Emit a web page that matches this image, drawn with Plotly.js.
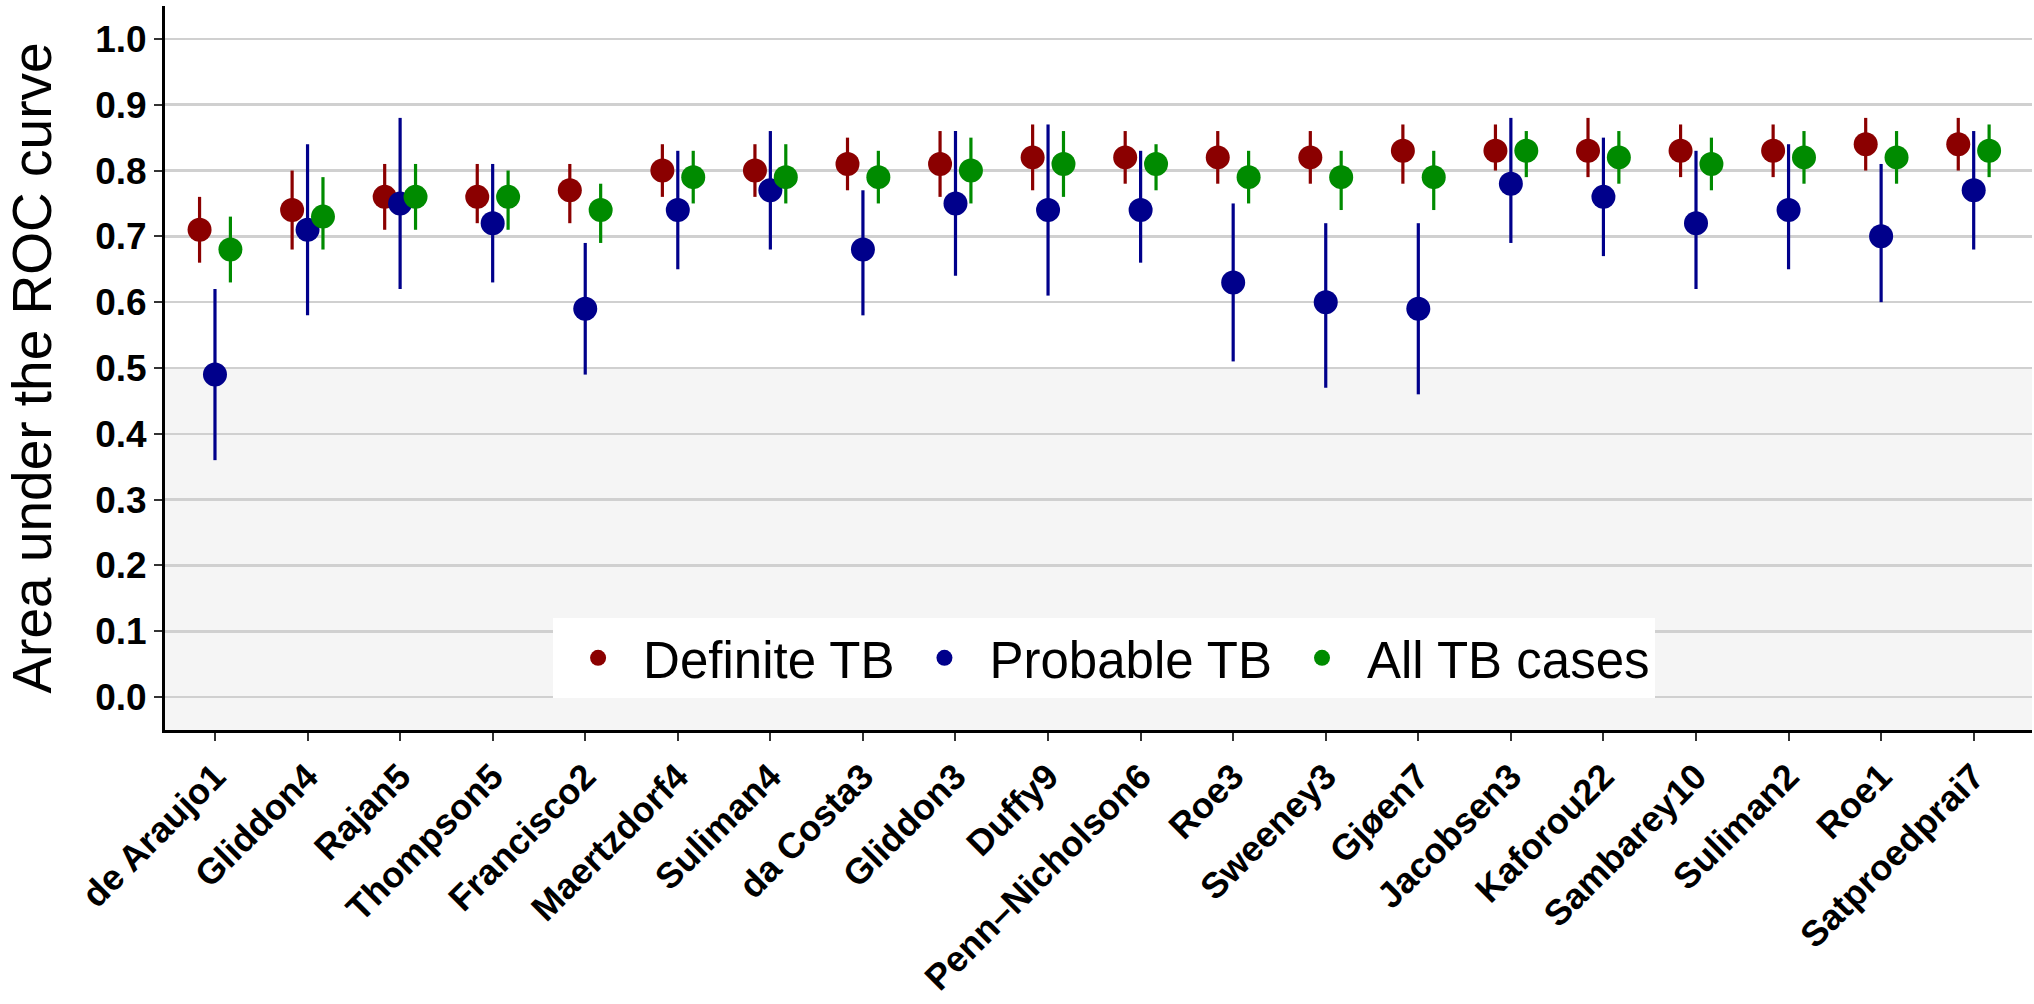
<!DOCTYPE html>
<html>
<head>
<meta charset="utf-8">
<script src="https://cdn.plot.ly/plotly-3.0.1.min.js"></script>
<style>html,body{margin:0;padding:0;background:#fff;}#chart{width:2034px;height:1004px;}</style>
</head>
<body>
<div id="chart"></div>
<script>
const categories = ["de Araujo1","Gliddon4","Rajan5","Thompson5","Francisco2","Maertzdorf4","Suliman4","da Costa3","Gliddon3","Duffy9","Penn–Nicholson6","Roe3","Sweeney3","Gjøen7","Jacobsen3","Kaforou22","Sambarey10","Suliman2","Roe1","Satproedprai7"];

const definiteAUC = [0.71,0.74,0.76,0.76,0.77,0.80,0.80,0.81,0.81,0.82,0.82,0.82,0.82,0.83,0.83,0.83,0.83,0.83,0.84,0.84];
const definiteLow = [0.66,0.68,0.71,0.72,0.72,0.76,0.76,0.77,0.76,0.77,0.78,0.78,0.78,0.78,0.80,0.79,0.79,0.79,0.80,0.80];
const definiteHigh = [0.76,0.80,0.81,0.81,0.81,0.84,0.84,0.85,0.86,0.87,0.86,0.86,0.86,0.87,0.87,0.88,0.87,0.87,0.88,0.88];

const probableAUC = [0.49,0.71,0.75,0.72,0.59,0.74,0.77,0.68,0.75,0.74,0.74,0.63,0.60,0.59,0.78,0.76,0.72,0.74,0.70,0.77];
const probableLow = [0.36,0.58,0.62,0.63,0.49,0.65,0.68,0.58,0.64,0.61,0.66,0.51,0.47,0.46,0.69,0.67,0.62,0.65,0.60,0.68];
const probableHigh = [0.62,0.84,0.88,0.81,0.69,0.83,0.86,0.77,0.86,0.87,0.83,0.75,0.72,0.72,0.88,0.85,0.83,0.84,0.81,0.86];

const allAUC = [0.68,0.73,0.76,0.76,0.74,0.79,0.79,0.79,0.80,0.81,0.81,0.79,0.79,0.79,0.83,0.82,0.81,0.82,0.82,0.83];
const allLow = [0.63,0.68,0.71,0.71,0.69,0.75,0.75,0.75,0.75,0.76,0.77,0.75,0.74,0.74,0.79,0.78,0.77,0.78,0.78,0.79];
const allHigh = [0.73,0.79,0.81,0.80,0.78,0.83,0.84,0.83,0.85,0.86,0.84,0.83,0.83,0.83,0.86,0.86,0.85,0.86,0.86,0.87];

const seriesNames = ["Definite TB","Probable TB","All TB cases"];
const seriesColors = ["#8B0000","#00008B","#008B00"];

const FONT = "Liberation Sans, Arial, Helvetica, sans-serif";

function makeTrace(name, color, vals, lows, highs, grp) {
  return {
    type: "scatter",
    mode: "markers",
    name: name,
    x: categories,
    y: vals,
    offsetgroup: grp,
    marker: {color: color, size: 24, line: {width: 0}},
    error_y: {
      type: "data",
      symmetric: false,
      array: highs.map((h, i) => h - vals[i]),
      arrayminus: lows.map((l, i) => vals[i] - l),
      color: color,
      thickness: 3.2,
      width: 0
    }
  };
}

const data = [
  makeTrace(seriesNames[0], seriesColors[0], definiteAUC, definiteLow, definiteHigh, "a"),
  makeTrace(seriesNames[1], seriesColors[1], probableAUC, probableLow, probableHigh, "b"),
  makeTrace(seriesNames[2], seriesColors[2], allAUC, allLow, allHigh, "c")
];

const layout = {
  width: 2034,
  height: 1004,
  margin: {l: 165, r: 2, t: 6, b: 274, pad: 0},
  paper_bgcolor: "#ffffff",
  plot_bgcolor: "#ffffff",
  font: {family: FONT, color: "#000000"},
  scattermode: "group",
  scattergap: 0.5,
  showlegend: true,
  legend: {
    orientation: "h",
    x: 0.503, xanchor: "center",
    y: 0.044, yanchor: "bottom",
    bgcolor: "#ffffff",
    borderwidth: 0,
    itemwidth: 80,
    font: {family: FONT, size: 51, color: "#000000"},
    itemclick: false
  },
  xaxis: {
    type: "category",
    range: [-0.54, 19.63],
    tickangle: -45,
    tickfont: {family: FONT, size: 36, color: "#000000", weight: "bold"},
    ticks: "outside", ticklen: 8, tickwidth: 2, tickcolor: "#333333",
    showline: true, linecolor: "#000000", linewidth: 3,
    showgrid: false, zeroline: false,
    automargin: false
  },
  yaxis: {
    range: [-0.05, 1.05],
    tick0: 0, dtick: 0.1, tickformat: ".1f",
    tickfont: {family: FONT, size: 37, color: "#000000", weight: "bold"},
    ticks: "outside", ticklen: 8, tickwidth: 2, tickcolor: "#333333",
    showline: true, linecolor: "#000000", linewidth: 3,
    showgrid: true, gridcolor: "#d0d0d0", gridwidth: 2.5,
    zeroline: false,
    automargin: false,
    title: {text: "Area under the ROC curve", font: {family: FONT, size: 55, color: "#000000"}, standoff: 26}
  },
  shapes: [{
    type: "rect", xref: "paper", yref: "y",
    x0: 0, x1: 1, y0: -0.05, y1: 0.5,
    fillcolor: "#f5f5f5", line: {width: 0}, layer: "below"
  }]
};

Plotly.newPlot("chart", data, layout, {displayModeBar: false, staticPlot: true});
</script>
</body>
</html>
